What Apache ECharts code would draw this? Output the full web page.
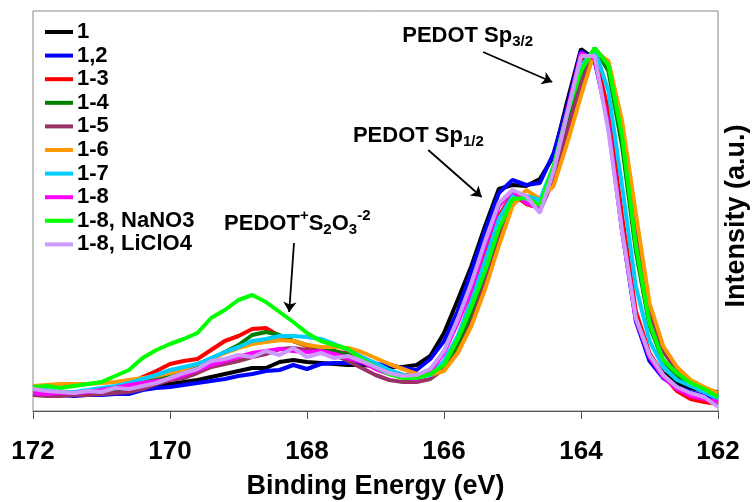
<!DOCTYPE html>
<html>
<head>
<meta charset="utf-8">
<script src="https://cdn.jsdelivr.net/npm/echarts@6/dist/echarts.min.js"></script>
<style>
html, body { margin: 0; padding: 0; background: #fff; }
#main { width: 752px; height: 502px; }
</style>
</head>
<body>
<div id="main"></div>
<script>
// binding energy grid (eV), 0.2 eV steps
var energy = [172.0, 171.8, 171.6, 171.4, 171.2, 171.0, 170.8, 170.6, 170.4, 170.2,
    170.0, 169.8, 169.6, 169.4, 169.2, 169.0, 168.8, 168.6, 168.4, 168.2,
    168.0, 167.8, 167.6, 167.4, 167.2, 167.0, 166.8, 166.6, 166.4, 166.2,
    166.0, 165.8, 165.6, 165.4, 165.2, 165.0, 164.8, 164.6, 164.4, 164.2,
    164.0, 163.8, 163.6, 163.4, 163.2, 163.0, 162.8, 162.6, 162.4, 162.2, 162.0];

var names = ['1', '1,2', '1-3', '1-4', '1-5', '1-6', '1-7', '1-8', '1-8, NaNO3', '1-8, LiClO4'];
var colors = ['#000000', '#0000ff', '#ff0000', '#008000', '#993366', '#ff9900', '#00ccff', '#ff00ff', '#00ff00', '#cc99ff'];

var s1 = [17, 17, 18, 18, 18, 18, 19, 20, 22, 25, 27, 29, 31, 34, 37, 40, 43, 43, 49, 51,
    49, 48, 47, 46, 46, 45, 44, 44, 46, 55, 78, 111, 145, 185, 222, 226, 225, 232, 255, 310,
    362, 352, 290, 185, 95, 55, 38, 28, 23, 20, 19];
var s2 = [17, 16, 16, 15, 16, 16, 17, 17, 21, 23, 24, 26, 28, 30, 32, 35, 37, 40, 41, 46,
    42, 47, 48, 48, 48, 47, 46, 43, 41, 52, 70, 100, 140, 180, 218, 231, 226, 228, 258, 305,
    360, 350, 288, 180, 90, 50, 33, 24, 19, 15, 12];
var s3 = [21, 20, 19, 18, 18, 19, 22, 27, 34, 40, 47, 50, 52, 61, 70, 75, 82, 83, 75, 70,
    65, 62, 59, 58, 54, 47, 40, 36, 34, 37, 46, 72, 112, 155, 195, 217, 207, 203, 240, 296,
    350, 358, 300, 195, 100, 58, 36, 20, 12, 9, 7];
var s4 = [19, 18, 17, 18, 19, 20, 22, 25, 28, 32, 37, 41, 46, 52, 59, 66, 76, 79, 76, 70,
    66, 63, 60, 56, 50, 44, 40, 36, 35, 37, 44, 64, 95, 135, 178, 210, 214, 205, 240, 292,
    338, 363, 340, 265, 160, 85, 50, 35, 26, 20, 16];
var s5 = [16, 15, 15, 16, 16, 17, 18, 19, 22, 27, 31, 33, 38, 44, 47, 50, 54, 57, 62, 63,
    61, 59, 56, 50, 43, 36, 31, 29, 29, 32, 42, 58, 88, 128, 170, 208, 215, 200, 232, 280,
    328, 362, 348, 285, 190, 100, 60, 40, 28, 22, 17];
var s6 = [25, 26, 27, 27, 27, 28, 29, 31, 33, 35, 38, 42, 47, 52, 58, 63, 67, 69, 71, 70,
    66, 64, 64, 63, 59, 53, 47, 42, 37, 36, 40, 58, 85, 122, 165, 205, 221, 212, 225, 268,
    315, 360, 350, 290, 198, 108, 65, 44, 31, 24, 18];
var s7 = [22, 21, 19, 19, 21, 23, 25, 28, 32, 36, 41, 44, 47, 53, 59, 64, 70, 72, 75, 75,
    74, 72, 67, 61, 54, 48, 41, 36, 34, 36, 50, 75, 110, 150, 192, 215, 215, 211, 245, 298,
    345, 362, 320, 225, 125, 70, 44, 31, 25, 19, 12];
var s8 = [18, 17, 18, 18, 19, 21, 23, 26, 28, 30, 32, 36, 41, 46, 50, 54, 58, 60, 62, 60,
    59, 60, 57, 53, 49, 42, 37, 34, 32, 40, 58, 88, 122, 165, 205, 220, 208, 203, 242, 300,
    358, 352, 285, 180, 92, 54, 34, 22, 15, 12, 9];
var s9 = [24, 25, 23, 25, 27, 29, 35, 41, 53, 61, 67, 72, 78, 93, 101, 111, 116, 109, 99, 89,
    78, 70, 66, 62, 52, 44, 37, 33, 33, 37, 46, 72, 104, 140, 182, 212, 213, 206, 245, 298,
    340, 363, 346, 275, 166, 88, 51, 38, 28, 22, 14];
var s10 = [22, 20, 19, 18, 20, 19, 23, 22, 25, 28, 33, 38, 42, 50, 52, 56, 54, 60, 56, 63,
    54, 58, 53, 55, 50, 44, 38, 35, 36, 42, 60, 92, 128, 170, 208, 221, 215, 198, 240, 298,
    355, 355, 280, 180, 93, 56, 36, 24, 18, 14, 4];
var allSeries = [s1, s2, s3, s4, s5, s6, s7, s8, s9, s10];

var xTicks = [162, 172, 2]; // min, max, interval

var FONT = '"Liberation Sans", Arial, sans-serif';

var chart = echarts.init(document.getElementById('main'));

var series = allSeries.map(function (vals, k) {
    return {
        name: names[k],
        type: 'line',
        data: vals.map(function (v, i) { return [energy[i], v]; }),
        showSymbol: false,
        symbol: 'none',
        lineStyle: {width: 4, color: colors[k]},
        itemStyle: {color: colors[k]},
        animation: false
    };
});

// arrows for the peak labels
series.push({
    name: 'notes',
    type: 'line',
    data: [],
    markLine: {
        silent: true,
        animation: false,
        symbol: ['none', 'arrow'],
        symbolSize: 10,
        label: {show: false},
        lineStyle: {color: '#000', width: 1.8, type: 'solid'},
        data: [
            [{coord: [165.43, 359]}, {coord: [164.42, 329]}],
            [{coord: [166.23, 261]}, {coord: [165.45, 214]}],
            [{coord: [168.19, 168]}, {coord: [168.26, 99]}]
        ]
    }
});

var option = {
    backgroundColor: '#fff',
    animation: false,
    grid: {
        left: 33, right: 34, top: 11, bottom: 91,
        outerBoundsMode: 'none',
        containLabel: false,
        show: true, borderColor: '#888', borderWidth: 1
    },
    legend: {
        data: names,
        orient: 'vertical',
        left: 45,
        top: 21,
        padding: 0,
        icon: 'rect',
        itemWidth: 28,
        itemHeight: 4,
        itemGap: 1.6,
        textStyle: {fontSize: 22, fontWeight: 'bold', color: '#000', fontFamily: FONT, lineHeight: 20, padding: [0, 0, 0, -1]}
    },
    xAxis: {
        type: 'value',
        min: xTicks[0],
        max: xTicks[1],
        interval: xTicks[2],
        inverse: true,
        name: 'Binding Energy (eV)',
        nameLocation: 'middle',
        nameGap: 62,
        nameTextStyle: {fontSize: 27, fontWeight: 'bold', color: '#000', fontFamily: FONT},
        axisLine: {lineStyle: {color: '#555', width: 1}},
        axisTick: {inside: false, length: 8, lineStyle: {color: '#555'}},
        axisLabel: {fontSize: 26, fontWeight: 'bold', color: '#000', fontFamily: FONT, margin: 28},
        splitLine: {show: false}
    },
    yAxis: {
        type: 'value',
        min: 0,
        max: 400,
        position: 'right',
        name: 'Intensity (a.u.)',
        nameLocation: 'middle',
        nameGap: 5,
        nameTextStyle: {fontSize: 27, fontWeight: 'bold', color: '#000', fontFamily: FONT, padding: [0, 10, 0, 0]},
        axisLine: {show: false},
        axisTick: {show: false},
        axisLabel: {show: false},
        splitLine: {show: false}
    },
    series: series
};

chart.setOption(option);

// peak labels with sub/superscripts
var ctx = document.createElement('canvas').getContext('2d');
function labelParts(E, v, parts) {
    var p = chart.convertToPixel({gridIndex: 0}, [E, v]);
    var x = p[0];
    var els = [];
    parts.forEach(function (pt) {
        ctx.font = 'bold ' + pt[1] + 'px ' + FONT;
        els.push({
            type: 'text',
            x: x,
            y: p[1] + pt[2],
            z: 100,
            style: {
                text: pt[0],
                fontSize: pt[1],
                fontWeight: 'bold',
                fontFamily: FONT,
                fill: '#000',
                align: 'left',
                verticalAlign: 'middle'
            }
        });
        x += ctx.measureText(pt[0]).width;
    });
    return els;
}

var graphics = []
    .concat(labelParts(166.61, 375, [['PEDOT Sp', 22, 0], ['3/2', 15, 6]]))
    .concat(labelParts(167.33, 275, [['PEDOT Sp', 22, 0], ['1/2', 15, 6]]))
    .concat(labelParts(169.21, 187, [['PEDOT', 22, 0], ['+', 15, -8], ['S', 22, 0], ['2', 15, 6],
        ['O', 22, 0], ['3', 15, 6], ['-2', 15, -8]]));

chart.setOption({graphic: graphics});
</script>
</body>
</html>
